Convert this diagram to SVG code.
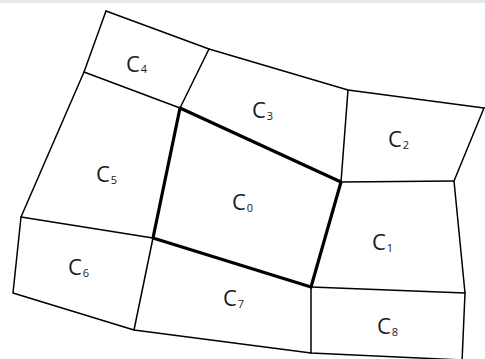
<svg xmlns="http://www.w3.org/2000/svg" width="485" height="359" viewBox="0 0 485 359">
<style>
.e{fill:none;stroke:#000;stroke-width:1.5;stroke-linejoin:round;stroke-linecap:round}
.b{fill:none;stroke:#000;stroke-width:3.2;stroke-linejoin:round;stroke-linecap:round}
.l{font-family:"Open Sans","DejaVu Sans",sans-serif;font-size:22px;fill:#1a1a1a}
.s{font-size:11px}
</style>
<rect x="0" y="0" width="485" height="359" fill="#fff"/>
<rect x="0" y="0" width="485" height="3" fill="#e6e7e9"/>
<g id="connectors">
<path class="e" d="M106,11 L209,49 L348,90 L484,108"/>
<path class="e" d="M106,11 L84,72 L21,217 L13,293 L134,330 L311,353 L462,360"/>
<path class="e" d="M84,72 L180,108"/>
<path class="e" d="M209,49 L180,108"/>
<path class="e" d="M348,90 L341,182"/>
<path class="e" d="M484,108 L454,181 L465,293 L462,362"/>
<path class="e" d="M341,182 L454,181"/>
<path class="e" d="M21,217 L153,238"/>
<path class="e" d="M153,238 L134,330"/>
<path class="e" d="M311,287 L311,353"/>
<path class="e" d="M311,287 L465,293"/>
<path class="b" d="M180,108 L341,182 L311,287 L153,238 Z"/>
</g>
<g id="C0"><text class="l" x="232" y="210">C<tspan class="s" dx="1" dy="2">0</tspan></text></g>
<g id="C1"><text class="l" x="372" y="250">C<tspan class="s" dx="1" dy="2">1</tspan></text></g>
<g id="C2"><text class="l" x="388" y="147">C<tspan class="s" dx="1" dy="2">2</tspan></text></g>
<g id="C3"><text class="l" x="252" y="118">C<tspan class="s" dx="1" dy="2">3</tspan></text></g>
<g id="C4"><text class="l" x="126" y="72">C<tspan class="s" dx="1" dy="1">4</tspan></text></g>
<g id="C5"><text class="l" x="96" y="182">C<tspan class="s" dx="1" dy="2">5</tspan></text></g>
<g id="C6"><text class="l" x="68" y="275">C<tspan class="s" dx="1" dy="2">6</tspan></text></g>
<g id="C7"><text class="l" x="223" y="306">C<tspan class="s" dx="1" dy="2">7</tspan></text></g>
<g id="C8"><text class="l" x="377" y="334">C<tspan class="s" dx="1" dy="2">8</tspan></text></g>
</svg>
